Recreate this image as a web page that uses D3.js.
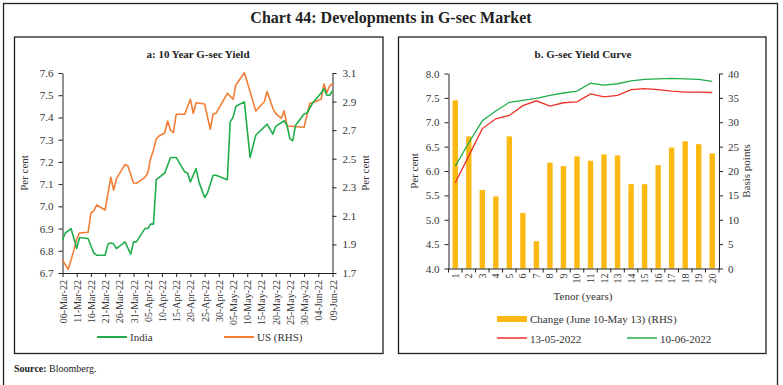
<!DOCTYPE html>
<html lang="en">
<head>
<meta charset="UTF-8">
<title>Chart 44: Developments in G-sec Market</title>
<script src="https://d3js.org/d3.v7.min.js"></script>
<style>
    body { margin: 0; background: #fff; }
    svg { display: block; font-family: "Liberation Serif", "DejaVu Serif", serif; }
    .axis path, .axis line { stroke: #222; stroke-width: 1; }
    .axis text { fill: #333; font-size: 11px; font-family: "Liberation Serif", serif; }
    .frame { fill: none; stroke: #222; stroke-width: 1.3; }
</style>
</head>
<body>
<svg id="chart" width="783" height="385"></svg>
<script>
// ---- panel a: 10 year G-sec yield ----
const indiaDates = ["2022-03-06","2022-03-07","2022-03-09","2022-03-11","2022-03-12","2022-03-15","2022-03-17","2022-03-18",
    "2022-03-21","2022-03-22","2022-03-23","2022-03-24","2022-03-25","2022-03-28","2022-03-30","2022-03-31","2022-04-01",
    "2022-04-04","2022-04-05","2022-04-06","2022-04-07","2022-04-08","2022-04-11","2022-04-13","2022-04-15","2022-04-18",
    "2022-04-19","2022-04-20","2022-04-22","2022-04-23","2022-04-25","2022-04-26","2022-04-28","2022-04-29","2022-05-03",
    "2022-05-04","2022-05-05","2022-05-06","2022-05-09","2022-05-11","2022-05-13","2022-05-17","2022-05-19","2022-05-20",
    "2022-05-23","2022-05-24","2022-05-25","2022-05-26","2022-05-27","2022-05-30","2022-05-31","2022-06-02","2022-06-05",
    "2022-06-06","2022-06-07","2022-06-08","2022-06-09"];
const indiaYield = [6.85,6.88,6.90,6.81,6.86,6.855,6.79,6.78,
    6.78,6.83,6.835,6.83,6.81,6.84,6.785,6.84,6.84,
    6.90,6.90,6.92,6.92,7.12,7.15,7.22,7.22,7.155,
    7.15,7.11,7.17,7.11,7.04,7.06,7.14,7.14,7.12,
    7.38,7.40,7.45,7.47,7.22,7.32,7.37,7.325,7.36,
    7.385,7.365,7.305,7.295,7.365,7.415,7.42,7.465,7.51,
    7.53,7.50,7.50,7.52];

const usDates = ["2022-03-06","2022-03-08","2022-03-09","2022-03-10","2022-03-11","2022-03-12","2022-03-15","2022-03-16",
    "2022-03-17","2022-03-18","2022-03-21","2022-03-22","2022-03-23","2022-03-24","2022-03-25","2022-03-28","2022-03-29",
    "2022-03-31","2022-04-01","2022-04-04","2022-04-05","2022-04-06","2022-04-07","2022-04-08","2022-04-09","2022-04-11",
    "2022-04-12","2022-04-13","2022-04-14","2022-04-15","2022-04-18","2022-04-20","2022-04-21","2022-04-22","2022-04-25",
    "2022-04-27","2022-04-28","2022-04-29","2022-05-03","2022-05-05","2022-05-06","2022-05-09","2022-05-11","2022-05-13",
    "2022-05-16","2022-05-17","2022-05-19","2022-05-20","2022-05-22","2022-05-23","2022-05-24","2022-05-30","2022-06-01",
    "2022-06-02","2022-06-05","2022-06-06","2022-06-07","2022-06-08","2022-06-09"];
const usYield = [1.79,1.726,1.79,1.86,1.94,1.98,1.985,2.12,
    2.135,2.176,2.141,2.258,2.37,2.28,2.36,2.46,2.449,
    2.33,2.328,2.37,2.40,2.50,2.56,2.64,2.659,2.682,
    2.764,2.701,2.682,2.811,2.811,2.916,2.818,2.892,2.883,
    2.706,2.813,2.818,2.958,2.916,3.016,3.102,2.97,2.834,
    2.899,2.97,2.853,2.818,2.783,2.836,2.729,2.72,2.888,
    2.892,2.916,3.023,2.962,3.009,3.023];

const leftTicks = [6.7, 6.8, 6.9, 7.0, 7.1, 7.2, 7.3, 7.4, 7.5, 7.6];
const rightTicks = [1.7, 1.9, 2.1, 2.3, 2.5, 2.7, 2.9, 3.1];

// ---- panel b: G-sec yield curve ----
const tenors = d3.range(1, 21);
const curveMay13 = [5.76,6.31,6.87,7.07,7.14,7.34,7.44,7.33,7.40,7.42,7.58,7.52,7.55,7.67,7.69,7.67,7.64,7.62,7.62,7.61];
const curveJun10 = [6.10,6.58,7.03,7.23,7.41,7.45,7.49,7.55,7.60,7.64,7.80,7.76,7.79,7.85,7.88,7.89,7.90,7.89,7.88,7.84];
const changeBp = [34.5,27.1,16.1,14.8,27.1,11.4,5.6,21.7,21.0,23.0,22.1,23.4,23.2,17.3,17.3,21.2,24.8,26.1,25.5,23.6];

const bTicksL = [4.0, 4.5, 5.0, 5.5, 6.0, 6.5, 7.0, 7.5, 8.0];
const bTicksR = [0, 5, 10, 15, 20, 25, 30, 35, 40];

const GREEN = "#22ad4c", ORANGE = "#f47d35", RED = "#ec3226", GOLD = "#fdb913";

const svg = d3.select("#chart");

// outer frame + panels
svg.append("rect").attr("class", "frame").attr("x", 3.5).attr("y", 3.5).attr("width", 774).attr("height", 400);
svg.append("rect").attr("class", "frame").attr("x", 14.5).attr("y", 37).attr("width", 368.5).attr("height", 316.5);
svg.append("rect").attr("class", "frame").attr("x", 398.5).attr("y", 37).attr("width", 367.5).attr("height", 316.5);

svg.append("text").attr("x", 391).attr("y", 23).attr("text-anchor", "middle")
    .style("font-size", "16px").style("font-weight", "bold").style("fill", "#222")
    .text("Chart 44: Developments in G-sec Market");

svg.append("text").attr("x", 14).attr("y", 372).style("font-size", "10px").style("fill", "#222")
    .call(t => {
        t.append("tspan").style("font-weight", "bold").text("Source: ");
        t.append("tspan").text("Bloomberg.");
    });

// ============ panel a ============
const parse = d3.timeParse("%Y-%m-%d");
const a = { left: 62.5, right: 332.5, top: 73, bottom: 273 };

svg.append("text").attr("x", 198).attr("y", 58).attr("text-anchor", "middle")
    .style("font-size", "11px").style("font-weight", "bold").style("fill", "#222")
    .text("a: 10 Year G-sec Yield");

const start = parse("2022-03-06"), end = parse("2022-06-09");
const xA = d3.scaleTime().domain([start, end]).range([a.left, a.right]);
const yA = d3.scaleLinear().domain([6.7, 7.6]).range([a.bottom, a.top]);
const yA2 = d3.scaleLinear().domain([1.7, 3.1]).range([a.bottom, a.top]);

const dateTicks = d3.timeDay.range(start, d3.timeDay.offset(end, 1), 5);

svg.append("g").attr("class", "axis").attr("transform", `translate(${a.left},0)`)
    .call(d3.axisLeft(yA).tickValues(leftTicks).tickFormat(d3.format(".1f")).tickSize(4).tickSizeOuter(0))
    .call(g => g.selectAll("text").attr("dx", "-2"));

svg.append("g").attr("class", "axis").attr("transform", `translate(${a.right},0)`)
    .call(d3.axisRight(yA2).tickValues(rightTicks).tickFormat(d3.format(".1f")).tickSize(4).tickSizeOuter(0))
    .call(g => g.selectAll("text").attr("dx", "3"));

svg.append("g").attr("class", "axis").attr("transform", `translate(0,${a.bottom})`)
    .call(d3.axisBottom(xA).tickValues(dateTicks).tickFormat(d3.timeFormat("%d-%b-%y")).tickSize(4).tickSizeOuter(0))
    .call(g => g.selectAll("text")
        .attr("transform", "rotate(-90)")
        .attr("text-anchor", "end")
        .attr("x", -7).attr("y", 0).attr("dy", "0.35em")
        .style("font-size", "10px"));

svg.append("text").attr("transform", `translate(28,${(a.top + a.bottom) / 2}) rotate(-90)`)
    .attr("text-anchor", "middle").style("font-size", "11px").style("fill", "#333").text("Per cent");
svg.append("text").attr("transform", `translate(369,${(a.top + a.bottom) / 2}) rotate(-90)`)
    .attr("text-anchor", "middle").style("font-size", "11px").style("fill", "#333").text("Per cent");

const indiaData = indiaDates.map((d, i) => ({ date: parse(d), v: indiaYield[i] }));
const usData = usDates.map((d, i) => ({ date: parse(d), v: usYield[i] }));

svg.append("path").datum(usData)
    .attr("fill", "none").attr("stroke", ORANGE).attr("stroke-width", 1.6).attr("stroke-linejoin", "round")
    .attr("d", d3.line().x(d => xA(d.date)).y(d => yA2(d.v)));
svg.append("path").datum(indiaData)
    .attr("fill", "none").attr("stroke", GREEN).attr("stroke-width", 1.6).attr("stroke-linejoin", "round")
    .attr("d", d3.line().x(d => xA(d.date)).y(d => yA(d.v)));

// legend a
const legA = [{ label: "India", color: GREEN, x: 97 }, { label: "US (RHS)", color: ORANGE, x: 224 }];
legA.forEach(l => {
    svg.append("line").attr("x1", l.x).attr("x2", l.x + 30).attr("y1", 337).attr("y2", 337)
        .attr("stroke", l.color).attr("stroke-width", 2);
    svg.append("text").attr("x", l.x + 33).attr("y", 337).attr("dy", "0.35em")
        .style("font-size", "11px").style("fill", "#333").text(l.label);
});

// ============ panel b ============
const b = { left: 448.5, right: 719, top: 73.5, bottom: 268.5 };

svg.append("text").attr("x", 583).attr("y", 58).attr("text-anchor", "middle")
    .style("font-size", "11px").style("font-weight", "bold").style("fill", "#222")
    .text("b. G-sec Yield Curve");

const xB = d3.scaleBand().domain(tenors).range([b.left, b.right]).paddingInner(0.6).paddingOuter(0.3);
const xBc = d3.scaleBand().domain(tenors).range([b.left, b.right]);
const yB = d3.scaleLinear().domain([4, 8]).range([b.bottom, b.top]);
const yB2 = d3.scaleLinear().domain([0, 40]).range([b.bottom, b.top]);

svg.append("g").selectAll("rect").data(tenors).join("rect")
    .attr("x", d => xBc(d) + xBc.bandwidth() / 2 - 2.7)
    .attr("width", 5.4)
    .attr("y", (d, i) => yB2(changeBp[i]))
    .attr("height", (d, i) => yB2(0) - yB2(changeBp[i]))
    .attr("fill", GOLD);

svg.append("g").attr("class", "axis").attr("transform", `translate(${b.left},0)`)
    .call(d3.axisLeft(yB).tickValues(bTicksL).tickFormat(d3.format(".1f")).tickSize(4).tickSizeOuter(0))
    .call(g => g.selectAll("text").attr("dx", "-2"));

svg.append("g").attr("class", "axis").attr("transform", `translate(${b.right},0)`)
    .call(d3.axisRight(yB2).tickValues(bTicksR).tickSize(4).tickSizeOuter(0))
    .call(g => g.selectAll("text").attr("dx", "2"));

const xAxisB = svg.append("g").attr("class", "axis").attr("transform", `translate(0,${b.bottom})`)
    .call(d3.axisBottom(xBc).tickSize(0).tickSizeOuter(0))
    .call(g => g.selectAll("text")
        .attr("transform", "rotate(-90)")
        .attr("text-anchor", "end")
        .attr("x", -5).attr("y", 0).attr("dy", "0.35em")
        .style("font-size", "10px"));
xAxisB.selectAll("line.bound").data(d3.range(0, 21)).join("line").attr("class", "bound")
    .attr("x1", i => b.left + i * xBc.step()).attr("x2", i => b.left + i * xBc.step())
    .attr("y1", 0).attr("y2", 4).attr("stroke", "#222");

svg.append("text").attr("x", 583).attr("y", 300).attr("text-anchor", "middle")
    .style("font-size", "11px").style("fill", "#333").text("Tenor (years)");

svg.append("text").attr("transform", `translate(418,${(b.top + b.bottom) / 2}) rotate(-90)`)
    .attr("text-anchor", "middle").style("font-size", "11px").style("fill", "#333").text("Per cent");
svg.append("text").attr("transform", `translate(750,${(b.top + b.bottom) / 2}) rotate(-90)`)
    .attr("text-anchor", "middle").style("font-size", "11px").style("fill", "#333").text("Basis points");

const lineB = d3.line().x((d, i) => xBc(tenors[i]) + xBc.bandwidth() / 2).y(d => yB(d));
svg.append("path").datum(curveMay13).attr("fill", "none").attr("stroke", RED).attr("stroke-width", 1.3).attr("d", lineB);
svg.append("path").datum(curveJun10).attr("fill", "none").attr("stroke", GREEN).attr("stroke-width", 1.3).attr("d", lineB);

// legend b
svg.append("rect").attr("x", 497).attr("y", 316).attr("width", 30).attr("height", 6).attr("fill", GOLD);
svg.append("text").attr("x", 530).attr("y", 319).attr("dy", "0.35em")
    .style("font-size", "11px").style("fill", "#333").text("Change (June 10-May 13) (RHS)");
const legB = [{ label: "13-05-2022", color: RED, x: 497 }, { label: "10-06-2022", color: GREEN, x: 627 }];
legB.forEach(l => {
    svg.append("line").attr("x1", l.x).attr("x2", l.x + 30).attr("y1", 338).attr("y2", 338)
        .attr("stroke", l.color).attr("stroke-width", 1.5);
    svg.append("text").attr("x", l.x + 33).attr("y", 339).attr("dy", "0.35em")
        .style("font-size", "11px").style("fill", "#333").text(l.label);
});
</script>
</body>
</html>
